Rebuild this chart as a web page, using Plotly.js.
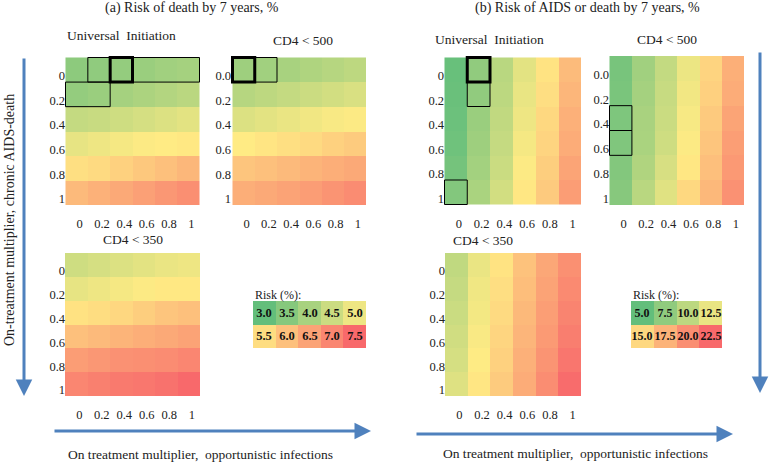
<!DOCTYPE html>
<html><head><meta charset="utf-8">
<script src="https://cdn.plot.ly/plotly-3.0.1.min.js"></script>
<style>html,body{margin:0;padding:0;background:#fff}#chart{width:769px;height:463px}</style>
</head><body><div id="chart"></div>
<script>
// ---- categories ----
const oiLabels = ["0","0.2","0.4","0.6","0.8","1"];          // on-treatment multiplier, opportunistic infections
const aidsLabels = ["0","0.2","0.4","0.6","0.8","1"];        // on-treatment multiplier, chronic AIDS-death
const aidsLabels500 = ["0.0","0.2","0.4","0.6","0.8","1"];

// ---- (a) Risk of death by 7 years, % ----
const deathUI = [
  [3.60,3.65,3.70,3.80,3.90,3.95],
  [3.70,3.80,3.95,4.05,4.15,4.25],
  [4.40,4.45,4.55,4.65,4.75,4.85],
  [4.90,5.00,5.10,5.20,5.25,5.30],
  [5.45,5.55,5.70,5.85,6.00,6.15],
  [6.10,6.25,6.40,6.55,6.70,6.85]
];
const death500 = [
  [3.85,3.90,4.00,4.10,4.20,4.30],
  [4.20,4.30,4.40,4.50,4.60,4.70],
  [4.75,4.85,4.95,5.05,5.15,5.20],
  [5.25,5.35,5.45,5.55,5.70,5.80],
  [5.90,6.00,6.10,6.20,6.30,6.40],
  [6.30,6.40,6.50,6.60,6.75,6.90]
];
const death350 = [
  [4.55,4.65,4.75,4.85,4.95,5.00],
  [4.90,5.00,5.10,5.20,5.30,5.30],
  [5.40,5.50,5.60,5.75,5.90,6.00],
  [6.00,6.10,6.20,6.30,6.40,6.50],
  [6.60,6.70,6.80,6.85,6.90,7.00],
  [7.00,7.10,7.20,7.25,7.35,7.50]
];
const legendA = [[3.0,3.5,4.0,4.5,5.0],[5.5,6.0,6.5,7.0,7.5]];

// ---- (b) Risk of AIDS or death by 7 years, % ----
const aidsUI = [
  [5.3,7.6,9.8,12.2,14.3,17.0],
  [5.4,7.6,10.0,12.5,14.6,17.3],
  [5.5,8.1,10.3,12.8,15.0,17.7],
  [5.7,8.3,10.5,13.2,15.3,18.0],
  [6.0,8.6,10.8,13.6,15.7,18.5],
  [6.8,9.0,11.2,14.0,16.0,19.0]
];
const aids500 = [
  [6.2,8.5,10.4,12.7,15.3,17.8],
  [6.3,8.7,10.6,13.0,15.6,18.0],
  [6.5,8.9,10.8,13.3,16.0,18.5],
  [6.6,9.0,11.0,13.6,16.3,18.9],
  [6.8,9.3,11.5,14.0,16.7,19.3],
  [7.0,9.8,12.0,15.0,17.2,19.8]
];
const aids350 = [
  [10.2,12.6,14.3,16.5,18.3,19.9],
  [10.5,12.9,14.6,16.8,18.6,20.3],
  [10.8,13.1,14.9,17.1,18.9,20.7],
  [11.1,13.4,15.2,17.4,19.2,21.1],
  [11.4,13.7,15.5,17.7,19.6,21.6],
  [11.9,14.1,15.9,18.0,20.1,22.3]
];
const legendB = [[5.0,7.5,10.0,12.5],[15.0,17.5,20.0,22.5]];

// ---- highlighted cells (thin / bold outlines) ----
const boxesAUI  = [["0.2","1","0","0",1],["0","0.2","0.2","0.2",1],["0.4","0.4","0","0",3]];
const boxesA500 = [["0","0.2","0.0","0.0",1],["0","0","0.0","0.0",3]];
const boxesBUI  = [["0.2","0.2","0","0",3],["0.2","0.2","0.2","0.2",1],["0","0","1","1",1]];
const boxesB500 = [["0","0","0.4","0.4",1],["0","0","0.6","0.6",1]];

// ---- styling ----
const W = 769, H = 463;
const serif = "Liberation Serif";
const green = "#63BE7B", yellow = "#FFEB84", red = "#F8696B";
const csA = [[0,green],[0.5,yellow],[1,red]];
const px = v => v / W;
const py = v => 1 - v / H;

const panels = [
  {z: deathUI,  y: aidsLabels,    zmin: 3, zmax: 7.5, box: [65,200,56,205], boxes: boxesAUI},
  {z: death500, y: aidsLabels500, zmin: 3, zmax: 7.5, box: [231,366,56,205], boxes: boxesA500},
  {z: death350, y: aidsLabels,    zmin: 3, zmax: 7.5, box: [65,200,253,396], boxes: []},
  {z: aidsUI,   y: aidsLabels,    zmin: 5, zmax: 22.5, box: [444,581,56,205], boxes: boxesBUI},
  {z: aids500,  y: aidsLabels500, zmin: 5, zmax: 22.5, box: [609,744,56,205], boxes: boxesB500},
  {z: aids350,  y: aidsLabels,    zmin: 5, zmax: 22.5, box: [445,581,253,396], boxes: []}
];

const traces = [];
const layout = {
  width: W, height: H,
  margin: {l:0, r:0, t:0, b:0},
  paper_bgcolor: "#fff", plot_bgcolor: "#fff",
  font: {family: serif, color: "#222"},
  showlegend: false,
  shapes: [], annotations: []
};

function axisBase(extra) {
  return Object.assign({
    showgrid:false, zeroline:false, showline:false, ticks:"", fixedrange:true,
    tickfont:{family:serif, size:12.5, color:"#222"}
  }, extra);
}

panels.forEach((p, i) => {
  const n = i + 1;
  const xa = "x" + n, ya = "y" + n;
  traces.push({
    type:"heatmap", z:p.z, x:oiLabels, y:p.y, xaxis:xa, yaxis:ya,
    colorscale:csA, zmin:p.zmin, zmax:p.zmax, showscale:false, hoverinfo:"z"
  });
  const [x0,x1,y0,y1] = p.box;
  layout["xaxis"+n] = axisBase({domain:[px(x0),px(x1)], anchor:ya, type:"category",
    ticklabelstandoff: 9, ticklabelshift: 3});
  layout["yaxis"+n] = axisBase({domain:[py(y1),py(y0)], anchor:xa, type:"category",
    autorange:"reversed", ticklabelstandoff: -1, ticklabelshift: -6});
  p.boxes.forEach(b => {
    const c0 = oiLabels.indexOf(b[0]), c1 = oiLabels.indexOf(b[1]);
    const r0 = p.y.indexOf(b[2]), r1 = p.y.indexOf(b[3]);
    layout.shapes.push({type:"rect", xref:xa, yref:ya,
      x0:c0-0.5, x1:c1+0.5, y0:r0-0.5, y1:r1+0.5,
      line:{color:"#000", width:b[4]}, fillcolor:"rgba(0,0,0,0)"});
  });
});

// legends (as heatmaps)
const legends = [
  {z: legendA, zmin:3, zmax:7.5, box:[253,366,301,348], title:[253,295], fs:12.5},
  {z: legendB, zmin:5, zmax:22.5, box:[631,722,301,348], title:[631,295], fs:12}
];
legends.forEach((L, j) => {
  const n = 7 + j;
  const xa = "x"+n, ya = "y"+n;
  traces.push({type:"heatmap", z:L.z, xaxis:xa, yaxis:ya, colorscale:csA,
    zmin:L.zmin, zmax:L.zmax, showscale:false, hoverinfo:"z",
    texttemplate:"<b>%{z:.1f}</b>", textfont:{family:serif, size:L.fs, color:"#111"}});
  const [x0,x1,y0,y1] = L.box;
  layout["xaxis"+n] = {domain:[px(x0),px(x1)], anchor:ya, visible:false, fixedrange:true};
  layout["yaxis"+n] = {domain:[py(y1),py(y0)], anchor:xa, visible:false, autorange:"reversed", fixedrange:true};
  layout.annotations.push({xref:"paper", yref:"paper", x:px(L.title[0]), y:py(L.title[1]),
    xanchor:"left", yanchor:"middle", showarrow:false, text:"Risk (%):",
    font:{family:serif, size:12, color:"#222"}});
});

// text labels
const texts = [
  ["(a) Risk of death by 7 years, %", 192, 8, "center", 14],
  ["(b) Risk of AIDS or death by 7 years, %", 587, 8, "center", 14],
  ["Universal&nbsp;&nbsp;Initiation", 65, 35, "left", 13.5],
  ["CD4 &lt; 500", 303, 41, "center", 13.5],
  ["CD4 &lt; 350", 133, 239, "center", 13.5],
  ["Universal&nbsp;&nbsp;Initiation", 433, 40, "left", 13.5],
  ["CD4 &lt; 500", 667, 40, "center", 13.5],
  ["CD4 &lt; 350", 483, 240, "center", 13.5],
  ["On treatment multiplier,&nbsp;&nbsp;opportunistic infections", 200, 454, "center", 13.5],
  ["On treatment multiplier,&nbsp;&nbsp;opportunistic infections", 575, 453, "center", 13.5]
];
texts.forEach(t => layout.annotations.push({xref:"paper", yref:"paper",
  x:px(t[1]), y:py(t[2]), xanchor:t[3], yanchor:"middle", showarrow:false, text:t[0],
  font:{family:serif, size:t[4], color:"#222"}}));
layout.annotations.push({xref:"paper", yref:"paper", x:px(9), y:py(220), textangle:-90,
  xanchor:"center", yanchor:"middle", showarrow:false,
  text:"On-treatment multiplier, chronic AIDS-death", font:{family:serif, size:14, color:"#222"}});

// arrows
const blue = "#4F81BD";
const arrows = [
  [24,57,24,396], [760,51,760,393], [53,431,371,431], [415,434,733,434]
];
arrows.forEach(a => layout.annotations.push({xref:"paper", yref:"paper",
  x:px(a[2]), y:py(a[3]), ax:px(a[0]), ay:py(a[1]), axref:"paper", ayref:"paper",
  showarrow:true, arrowhead:2, arrowsize:1.1, arrowwidth:3, arrowcolor:blue, text:""}));

Plotly.newPlot("chart", traces, layout, {staticPlot:true, displayModeBar:false});
</script></body></html>
